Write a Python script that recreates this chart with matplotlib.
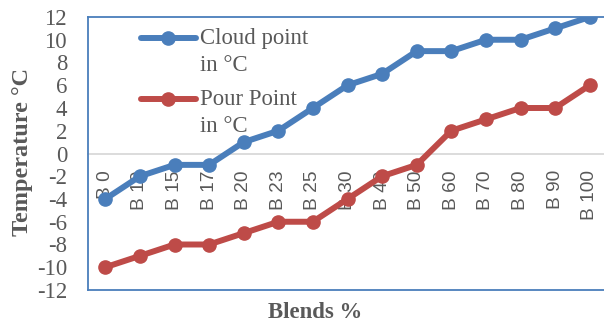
import matplotlib
matplotlib.use('Agg')
import numpy as np
import matplotlib.pyplot as plt
from matplotlib.legend_handler import HandlerLine2D

blends = ['B 0', 'B 10', 'B 15', 'B 17', 'B 20', 'B 23', 'B 25', 'B 30',
          'B 40', 'B 50', 'B 60', 'B 70', 'B 80', 'B 90', 'B 100']
cloud_point = [-4, -2, -1, -1, 1, 2, 4, 6, 7, 9, 9, 10, 10, 11, 12]
pour_point = [-10, -9, -8, -8, -7, -6, -6, -4, -2, -1, 2, 3, 4, 4, 6]

blue = '#4a7ebb'
red = '#be4b48'
grey = '#595959'
serif = ['Liberation Serif', 'DejaVu Serif']


class FirstLineHandler(HandlerLine2D):
    """Legend line aligned with the first row of a two-line label."""
    def create_artists(self, legend, orig_handle, xdescent, ydescent,
                       width, height, fontsize, trans):
        arts = super().create_artists(legend, orig_handle, xdescent, ydescent,
                                      width, height, fontsize, trans)
        for a in arts:
            a.set_ydata(np.asarray(a.get_ydata()) + 10.0)
        return arts


fig = plt.figure(figsize=(6.04, 3.26), dpi=100)
ax = fig.add_axes([88 / 604, 1 - 290 / 326, 519 / 604, 273 / 326])

x = range(len(blends))
ax.plot(x, cloud_point, color=blue, lw=4.3, marker='o', ms=9.5,
        solid_capstyle='round', label='Cloud point\nin °C', zorder=3)
ax.plot(x, pour_point, color=red, lw=4.3, marker='o', ms=9.5,
        solid_capstyle='round', label='Pour Point\nin °C', zorder=3)

ax.set_xlim(-0.5, len(blends) - 0.5)
ax.set_ylim(-12, 12)
ax.set_yticks(range(-12, 13, 2))
ax.set_yticklabels([str(v) for v in range(-12, 13, 2)],
                   family=serif, fontsize=16.4, color=grey)
ax.tick_params(axis='y', length=0, pad=15)

# category axis sits on y = 0
ax.spines['bottom'].set_position(('data', 0))
ax.spines['bottom'].set_color('#d9d9d9')
ax.spines['bottom'].set_linewidth(1.3)
ax.spines['bottom'].set_zorder(1)
for side in ('left', 'top', 'right'):
    ax.spines[side].set_color(blue)
    ax.spines[side].set_linewidth(1.3)
ax.plot([0, 1], [0, 0], transform=ax.transAxes, color=blue, lw=1.3,
        clip_on=False)

ax.set_xticks(list(x))
ax.set_xticklabels(blends, rotation=90, family=['Liberation Sans', 'DejaVu Sans'],
                   fontsize=13.8, color=grey, va='top', ha='center')
ax.tick_params(axis='x', length=0, pad=12)

fig.text(0.037, 1 - 152 / 326, 'Temperature °C', rotation=90, family=serif,
         fontsize=17.5, fontweight='bold', color=grey, ha='center', va='center')
fig.text(315 / 604, 1 - 313 / 326, 'Blends %', family=serif, fontsize=16.4,
         fontweight='bold', color=grey, ha='center', va='center')

leg = ax.legend(loc='upper left', bbox_to_anchor=(141 / 604, 1 - 28 / 326),
                bbox_transform=fig.transFigure, frameon=False,
                prop={'family': serif, 'size': 16.4}, handlelength=2.4,
                handletextpad=0.2, labelspacing=0.6, borderaxespad=0,
                borderpad=0,
                handler_map={plt.Line2D: FirstLineHandler()})
for t in leg.get_texts():
    t.set_color(grey)
    t.set_linespacing(1.35)

fig.savefig('out.png', dpi=100)
